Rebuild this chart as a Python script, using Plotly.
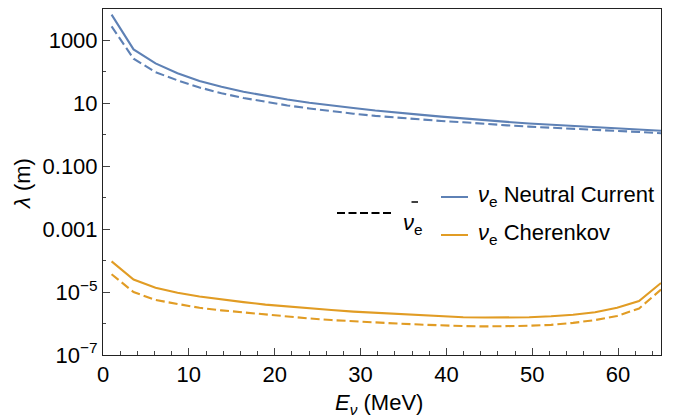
import plotly.graph_objects as go

# Neutrino energy grid (MeV)
energy_mev = [1.0, 3.56, 6.12, 8.68, 11.24, 13.8, 16.36, 18.92, 21.48, 24.04,
              26.6, 29.16, 31.72, 34.28, 36.84, 39.4, 41.96, 44.52, 47.08, 49.64,
              52.2, 54.76, 57.32, 59.88, 62.44, 65.0]

# Mean free path (m): neutral-current scattering
nc_nue = [6.6e3, 5.2e2, 186, 91, 51, 33.5, 23.4, 17.4, 13.3, 10.5,
          8.5, 7.1, 5.9, 5.0, 4.4, 3.8, 3.3, 2.85, 2.57, 2.29,
          2.09, 1.91, 1.74, 1.58, 1.46, 1.35]
nc_nuebar = [2.8e3, 263, 98, 54, 32, 21.0, 14.8, 11.0, 8.6, 6.9,
             5.6, 4.7, 4.0, 3.5, 3.1, 2.75, 2.51, 2.19, 2.0, 1.82,
             1.70, 1.55, 1.45, 1.32, 1.23, 1.12]

# Mean free path (m): Cherenkov channel
ck_nue = [9.5e-5, 2.5e-5, 1.38e-5, 9.5e-6, 7.2e-6, 5.75e-6, 4.8e-6, 4.0e-6, 3.47e-6, 3.0e-6,
          2.7e-6, 2.4e-6, 2.19e-6, 2.0e-6, 1.82e-6, 1.70e-6, 1.58e-6, 1.55e-6, 1.55e-6, 1.58e-6,
          1.70e-6, 1.9e-6, 2.3e-6, 3.16e-6, 5.2e-6, 1.95e-5]
ck_nuebar = [3.7e-5, 1.0e-5, 5.6e-6, 4.1e-6, 3.16e-6, 2.63e-6, 2.24e-6, 1.9e-6, 1.62e-6, 1.45e-6,
             1.29e-6, 1.17e-6, 1.07e-6, 1.0e-6, 9.3e-7, 8.7e-7, 8.3e-7, 8.1e-7, 8.1e-7, 8.5e-7,
             9.1e-7, 1.05e-6, 1.29e-6, 1.74e-6, 3.0e-6, 1.2e-5]

x_major = [0, 10, 20, 30, 40, 50, 60]
y_major_vals = [1e-7, 1e-5, 1e-3, 1e-1, 1e1, 1e3]
y_major_text = ["10<sup>\u22127</sup>", "10<sup>\u22125</sup>", "0.001", "0.100", "10", "1000"]
y_minor_vals = [1e-6, 1e-4, 1e-2, 1, 1e2]

BLUE = "#5E81B5"
ORANGE = "#E19C24"
FONT = "Liberation Sans"
FS = 22

W, H = 676, 420
L, R, T, B = 103, 15, 9, 65
pw, ph = W - L - R, H - T - B


def px(x):
    return (x - L) / pw


def py(y):
    return 1 - (y - T) / ph


fig = go.Figure()
for yv, color, dash in [(nc_nue, BLUE, "solid"), (nc_nuebar, BLUE, "9px,4px"),
                        (ck_nue, ORANGE, "solid"), (ck_nuebar, ORANGE, "9px,4px")]:
    fig.add_trace(go.Scatter(x=energy_mev, y=yv, mode="lines", showlegend=False,
                             line=dict(color=color, width=2.1, dash=dash)))

shapes = [
    # legend keys
    dict(type="line", xref="paper", yref="paper", x0=px(337), x1=px(391), y0=py(213), y1=py(213),
         line=dict(color="black", width=1.8, dash="8px,3.5px")),
    dict(type="line", xref="paper", yref="paper", x0=px(441), x1=px(468), y0=py(197), y1=py(197),
         line=dict(color=BLUE, width=2)),
    dict(type="line", xref="paper", yref="paper", x0=px(441), x1=px(468), y0=py(235), y1=py(235),
         line=dict(color=ORANGE, width=2)),
    # bar over the antineutrino symbol
    dict(type="line", xref="paper", yref="paper", x0=px(411.5), x1=px(418), y0=py(202), y1=py(202),
         line=dict(color="black", width=1.5)),
]

annotations = [
    dict(text="<i>\u03bd</i><sub>e</sub>", x=px(401), y=py(224), xanchor="left", yanchor="middle"),
    dict(text="<i>\u03bd</i><sub>e</sub> Neutral Current", x=px(476), y=py(196), xanchor="left", yanchor="middle"),
    dict(text="<i>\u03bd</i><sub>e</sub> Cherenkov", x=px(476), y=py(234), xanchor="left", yanchor="middle"),
    dict(text="<i>E</i><sub><i>\u03bd</i></sub> (MeV)", x=px(379), y=py(404), xanchor="center", yanchor="middle"),
    dict(text="<i>\u03bb</i> (m)", x=px(22), y=py(184), xanchor="center", yanchor="middle", textangle=-90),
]
for a in annotations:
    a.update(xref="paper", yref="paper", showarrow=False, font=dict(family=FONT, size=FS, color="black"))

fig.update_layout(
    width=W, height=H,
    margin=dict(l=L, r=R, t=T, b=B),
    paper_bgcolor="white", plot_bgcolor="white",
    font=dict(family=FONT, size=FS, color="black"),
    shapes=shapes, annotations=annotations,
)
fig.update_xaxes(range=[0, 65], tickvals=x_major, ticks="inside", ticklen=7, tickwidth=1,
                 tickcolor="#444", showline=True, linecolor="#222", linewidth=1, mirror=True,
                 showgrid=False, zeroline=False, tickfont=dict(family=FONT, size=FS, color="black"),
                 minor=dict(dtick=2, ticks="inside", ticklen=4, tickcolor="#444", showgrid=False))
fig.update_yaxes(type="log", range=[-7, 4], tickvals=y_major_vals, ticktext=y_major_text,
                 ticks="inside", ticklen=7, tickwidth=1, tickcolor="#444",
                 showline=True, linecolor="#222", linewidth=1, mirror=True,
                 showgrid=False, zeroline=False, tickfont=dict(family=FONT, size=FS, color="black"),
                 minor=dict(tickvals=y_minor_vals, ticks="inside", ticklen=3, tickcolor="#444",
                            showgrid=False))

fig.write_html("out.html")
